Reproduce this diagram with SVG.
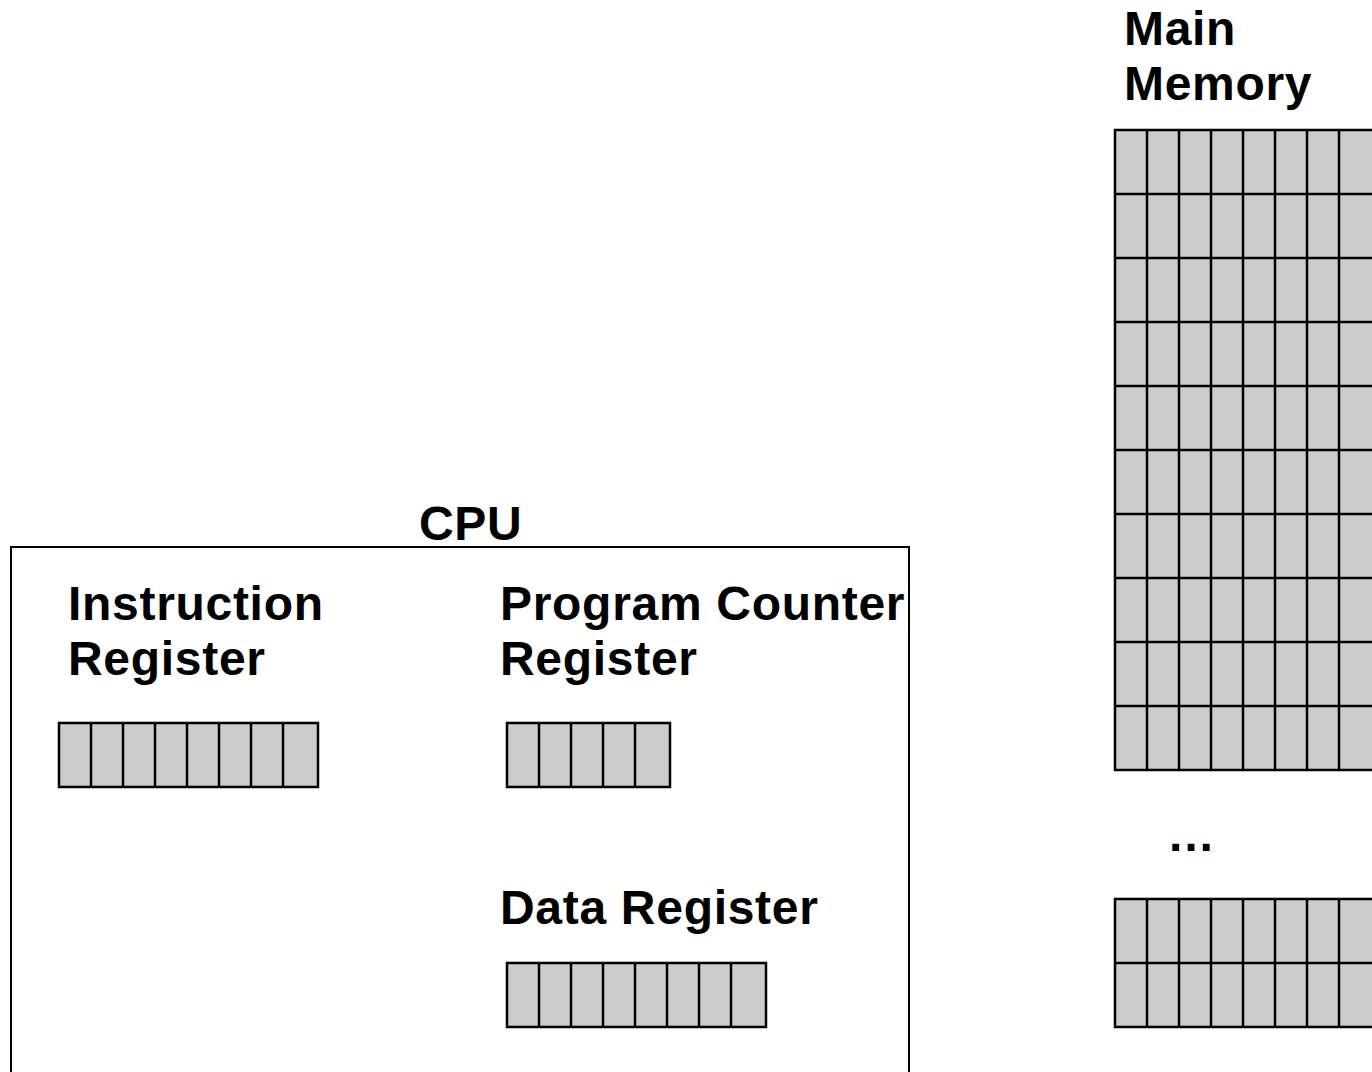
<svg xmlns="http://www.w3.org/2000/svg" width="1372" height="1072" viewBox="0 0 1372 1072">
<style>
.lbl{font-family:"Liberation Sans",Arial,sans-serif;font-weight:bold;font-size:48px;fill:#000;letter-spacing:0.7px}
.cell{fill:#cccccc;stroke:#000;stroke-width:2.5}
.div{stroke:#000;stroke-width:2.5;fill:none}
.box{fill:none;stroke:#000;stroke-width:2}
</style>
<rect width="1372" height="1072" fill="#fff"/>
<g id="cpu">
<rect class="box" x="11" y="547" width="898" height="600"/>
<text class="lbl" x="419" y="540">CPU</text>
</g>
<g id="instruction-register">
<text class="lbl" x="68" y="620">Instruction</text>
<text class="lbl" x="68" y="675">Register</text>
<rect class="cell" x="59" y="723" width="259" height="64"/>
<path class="div" d="M91 723V787M123 723V787M155 723V787M187 723V787M219 723V787M251 723V787M283 723V787"/>
</g>
<g id="program-counter-register">
<text class="lbl" x="500" y="620">Program Counter</text>
<text class="lbl" x="500" y="675">Register</text>
<rect class="cell" x="507" y="723" width="163" height="64"/>
<path class="div" d="M539 723V787M571 723V787M603 723V787M635 723V787"/>
</g>
<g id="data-register">
<text class="lbl" x="500" y="924">Data Register</text>
<rect class="cell" x="507" y="963" width="259" height="64"/>
<path class="div" d="M539 963V1027M571 963V1027M603 963V1027M635 963V1027M667 963V1027M699 963V1027M731 963V1027"/>
</g>
<g id="main-memory">
<text class="lbl" x="1124" y="45">Main</text>
<text class="lbl" x="1124" y="100">Memory</text>
<rect class="cell" x="1115" y="130" width="280" height="640"/>
<path class="div" d="M1147 130V770M1179 130V770M1211 130V770M1243 130V770M1275 130V770M1307 130V770M1339 130V770
M1115 194H1395M1115 258H1395M1115 322H1395M1115 386H1395M1115 450H1395M1115 514H1395M1115 578H1395M1115 642H1395M1115 706H1395"/>
<text class="lbl" x="1167" y="851" style="letter-spacing:0">…</text>
<rect class="cell" x="1115" y="899" width="280" height="128"/>
<path class="div" d="M1147 899V1027M1179 899V1027M1211 899V1027M1243 899V1027M1275 899V1027M1307 899V1027M1339 899V1027M1115 963H1395"/>
</g>
<g id="connectors"/>
</svg>
